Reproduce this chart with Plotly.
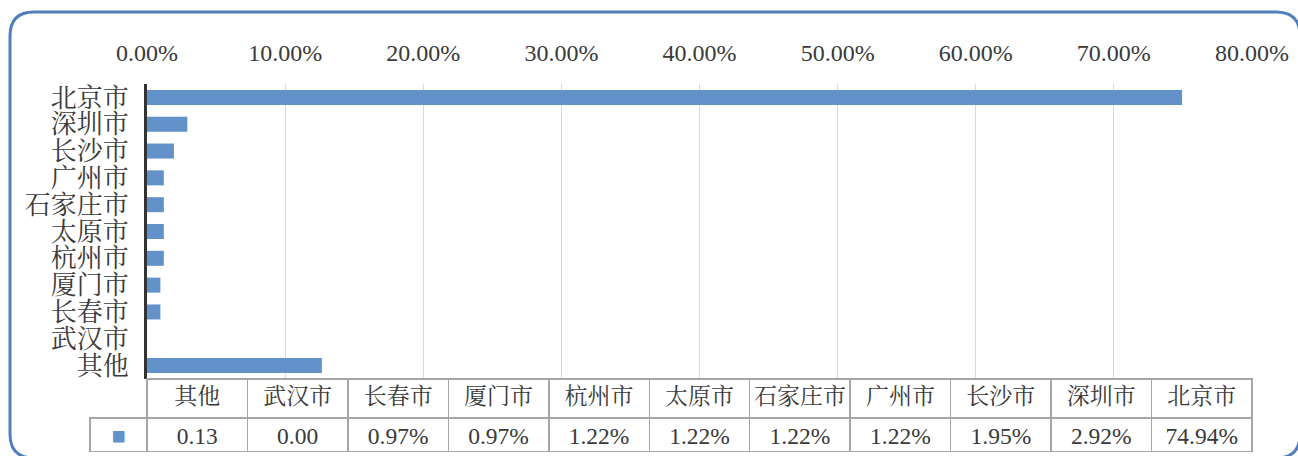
import plotly.graph_objects as go

# Data (table order, left to right; bottom to top in the bar chart)
categories = ["其他", "武汉市", "长春市", "厦门市", "杭州市", "太原市",
              "石家庄市", "广州市", "长沙市", "深圳市", "北京市"]
shares = [0.1266, 0.0, 0.0097, 0.0097, 0.0122, 0.0122,
          0.0122, 0.0122, 0.0195, 0.0292, 0.7494]
table_labels = ["0.13", "0.00", "0.97%", "0.97%", "1.22%", "1.22%",
                "1.22%", "1.22%", "1.95%", "2.92%", "74.94%"]
x_ticks = [0, 0.1, 0.2, 0.3, 0.4, 0.5, 0.6, 0.7, 0.8]

BAR = "#6391c9"
TXT = "#3a3a3a"
GRID = "#d9d9d9"
CELL_LINE = "#a6a6a6"
FONT = "Liberation Serif, Noto Serif CJK SC, Noto Sans CJK SC, serif"

W, H = 1298, 456
ML, MR, MT, MB = 90, 46, 84, 4
pw = W - ML - MR
ph = H - MT - MB
plot_left_px = 147
plot_bottom_px = 379
x0 = (plot_left_px - ML) / pw
y0 = 1 - (plot_bottom_px - MT) / ph

fig = go.Figure()
fig.add_trace(go.Bar(
    y=categories, x=shares, orientation="h",
    marker=dict(color=BAR, line=dict(width=0)),
    xaxis="x", yaxis="y", showlegend=False,
))

legend_col_w = plot_left_px - ML
cat_w = (pw - legend_col_w) / len(categories)
n = len(categories)
fig.add_trace(go.Table(
    domain=dict(x=[0, 1], y=[0, y0]),
    columnwidth=[legend_col_w] + [cat_w] * n,
    header=dict(
        values=[""] + categories,
        height=39,
        align="center",
        fill=dict(color=["rgba(0,0,0,0)"] + ["white"] * n),
        line=dict(color=["rgba(0,0,0,0)"] + [CELL_LINE] * n, width=[0] + [1.5] * n),
        font=dict(family=FONT, size=23, color=TXT),
    ),
    cells=dict(
        values=[["■"]] + [[v] for v in table_labels],
        height=34,
        align="center",
        fill=dict(color="white"),
        line=dict(color=CELL_LINE, width=1.5),
        font=dict(family=FONT, size=23.5, color=[BAR] + [TXT] * n),
    ),
))

# rounded frame (decoration)
def px_x(p):
    return (p - ML) / pw

def px_y(p):
    return 1 - (p - MT) / ph

L, R, T, B, r = 10, 1300, 12, 458, 24
path = (
    f"M {px_x(L)},{px_y(T + r)} "
    f"Q {px_x(L)},{px_y(T)} {px_x(L + r)},{px_y(T)} "
    f"L {px_x(R - r)},{px_y(T)} "
    f"Q {px_x(R)},{px_y(T)} {px_x(R)},{px_y(T + r)} "
    f"L {px_x(R)},{px_y(B - r)} "
    f"Q {px_x(R)},{px_y(B)} {px_x(R - r)},{px_y(B)} "
    f"L {px_x(L + r)},{px_y(B)} "
    f"Q {px_x(L)},{px_y(B)} {px_x(L)},{px_y(B - r)} Z"
)

fig.update_layout(
    width=W, height=H,
    margin=dict(l=ML, r=MR, t=MT, b=MB, autoexpand=False),
    paper_bgcolor="white", plot_bgcolor="white",
    font=dict(family=FONT, size=22, color=TXT),
    bargap=0.44,
    xaxis=dict(
        domain=[x0, 1], side="top", range=[0, 0.8],
        tickvals=x_ticks, tickformat=".2%",
        showgrid=True, gridcolor=GRID, gridwidth=1,
        zeroline=False, showline=False, ticks="",
        ticklabelstandoff=17,
        tickfont=dict(family=FONT, size=24, color=TXT),
        automargin=False,
        fixedrange=True,
    ),
    yaxis=dict(
        domain=[y0, 1], anchor="x",
        tickmode="linear", dtick=1,
        showline=True, linecolor="#333333", linewidth=3,
        showgrid=False, zeroline=False, ticks="",
        ticklabelstandoff=10,
        tickfont=dict(family=FONT, size=26, color=TXT),
        automargin=False,
        fixedrange=True,
    ),
    shapes=[dict(type="path", path=path, xref="paper", yref="paper",
                 line=dict(color="#4f7fbf", width=3), layer="above")],
)

fig.write_html(
    "out.html",
    config={"displayModeBar": False},
    post_script="document.body.style.margin='0';document.body.style.overflow='hidden';",
)
